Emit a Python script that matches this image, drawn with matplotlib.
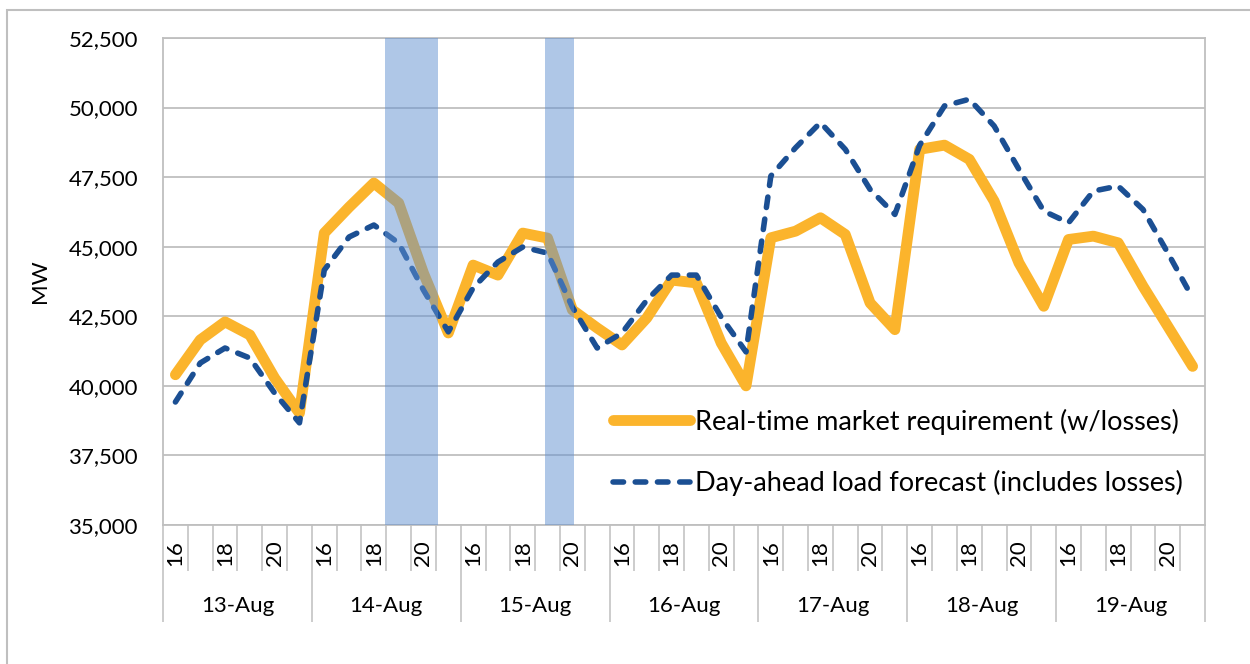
import numpy as np
import matplotlib
matplotlib.use("Agg")
import matplotlib.pyplot as plt
import matplotlib.transforms as mtransforms
from matplotlib.patches import Rectangle
from matplotlib.ticker import FuncFormatter

plt.rcParams['font.family'] = ['Lato', 'DejaVu Sans']

# data
days = ['13-Aug', '14-Aug', '15-Aug', '16-Aug', '17-Aug', '18-Aug', '19-Aug']
hours = [16, 17, 18, 19, 20, 21]

realtime = [
    40400, 41650, 42300, 41830, 40280, 39020,
    45490, 46420, 47290, 46570, 44050, 41900,
    44340, 43980, 45490, 45310, 42730, 42080,
    41470, 42440, 43800, 43700, 41540, 40000,
    45320, 45560, 46040, 45440, 42980, 42020,
    48500, 48650, 48140, 46640, 44420, 42860,
    45260, 45380, 45140, 43580, 42140, 40700,
]
dayahead = [
    39420, 40820, 41360, 41000, 39740, 38670,
    44160, 45350, 45780, 45130, 43440, 41940,
    43520, 44450, 44990, 44770, 42830, 41360,
    41900, 43080, 43980, 43980, 42470, 41220,
    47540, 48560, 49460, 48500, 47060, 46160,
    48650, 50060, 50300, 49340, 47780, 46280,
    45860, 47000, 47180, 46340, 44780, 43160,
]

# shaded event windows: (day, start hour, end hour)
event_days = ['14-Aug', '15-Aug']
event_start = [18.45, 18.9]
event_end = [20.57, 20.07]

orange = '#FBB42C'
blue = '#1B4F93'
grey = '#BFBFBF'

fig = plt.figure(figsize=(12.5, 6.64), dpi=100)
ax = fig.add_axes([163 / 1250, 139 / 664, 1042 / 1250, 487 / 664])

n = len(days) * len(hours)
x = np.arange(n)

ax.plot(x, realtime, color=orange, lw=7.8, solid_capstyle='round',
        solid_joinstyle='round', zorder=3,
        label='Real-time market requirement (w/losses)')
ax.plot(x, dayahead, color=blue, lw=4, dashes=(1.9, 2.1),
        dash_capstyle='round', zorder=4,
        label='Day-ahead load forecast (includes losses)')

for d, s, e in zip(event_days, event_start, event_end):
    base = days.index(d) * len(hours) - hours[0]
    ax.axvspan(base + s, base + e, color='#6191D1', alpha=0.5, lw=0, zorder=5)

ax.set_xlim(-0.5, n - 0.5)
ax.set_ylim(35000, 52500)
ax.set_yticks(np.arange(35000, 52501, 2500))
ax.yaxis.set_major_formatter(FuncFormatter(lambda v, p: f'{v:,.0f}'))
ax.tick_params(axis='y', length=0, pad=18, labelsize=16)
ax.yaxis.grid(True, color=grey, lw=1.3)
ax.set_axisbelow(True)
for sp in ax.spines.values():
    sp.set_color(grey)
    sp.set_linewidth(1.3)

ax.set_ylabel('MW', fontsize=16)
ax.yaxis.set_label_coords(-0.108, 0.5)

# multi-level category axis
ax.set_xticks(np.arange(-0.5, n, len(hours)))
ax.set_xticks(np.arange(-0.5, n, 1), minor=True)
ax.tick_params(axis='x', which='major', length=70, width=1.1, color=grey,
               labelbottom=False)
ax.tick_params(axis='x', which='minor', length=33, width=1.1, color=grey,
               labelbottom=False)

trans = ax.get_xaxis_transform()
hour_trans = mtransforms.offset_copy(trans, fig=fig, y=-11, units='points')
day_trans = mtransforms.offset_copy(trans, fig=fig, y=-58, units='points')
for i, d in enumerate(days):
    for j, h in enumerate(hours):
        if h % 2 == 0:
            ax.text(i * len(hours) + j, 0, str(h), transform=hour_trans,
                    rotation=90, ha='center', va='top', fontsize=16)
    ax.text(i * len(hours) + (len(hours) - 1) / 2, 0, d, transform=day_trans,
            ha='center', va='center', fontsize=16)

ax.legend(loc='center left', bbox_to_anchor=(613 / 1250, 211.5 / 664),
          bbox_transform=fig.transFigure, frameon=False, fontsize=19.5,
          handlelength=2.85, handletextpad=0.18, labelspacing=1.3,
          borderpad=0, borderaxespad=0)

# chart border
fig.add_artist(Rectangle((7 / 1250, -0.1), 1.2, 1.1 - 10 / 664 + 0.0,
                         transform=fig.transFigure, fill=False,
                         edgecolor=grey, lw=1.5))

fig.savefig('out.png', dpi=100)
